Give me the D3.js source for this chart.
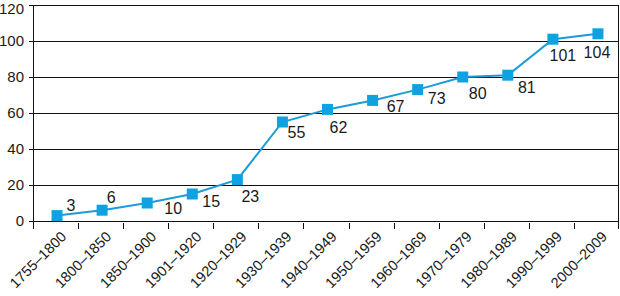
<!DOCTYPE html>
<html>
<head>
  <meta charset="utf-8">
  <script src="https://d3js.org/d3.v7.min.js"></script>
  <style>
    body { margin: 0; background: #fff; }
    text { font-family: "Liberation Sans", Arial, sans-serif; fill: #1a1a1a; }
    .grid line, .frame line { stroke: #111; stroke-width: 1; shape-rendering: crispEdges; }
  </style>
</head>
<body>
<div id="chart"></div>
<script>
  // data
  let periods = ["1755–1800", "1800–1850", "1850–1900", "1901–1920", "1920–1929",
                 "1930–1939", "1940–1949", "1950–1959", "1960–1969", "1970–1979",
                 "1980–1989", "1990–1999", "2000–2009"];
  let values = [3, 6, 10, 15, 23, 55, 62, 67, 73, 80, 81, 101, 104];
  let yTicks = [0, 20, 40, 60, 80, 100, 120];

  // where each value label sits relative to its marker (dx, dy to baseline)
  let labelOffsets = [[14, -5], [9, -7], [26, 11], [19, 13], [13, 22], [14, 16], [11, 24],
                      [23, 12], [19, 14], [15, 22], [19, 18], [10, 22], [-1, 24]];

  let width = 620, height = 296;
  let plotLeft = 33, plotRight = 619, plotTop = 5, plotBottom = 221;

  let svg = d3.select("#chart").append("svg")
    .attr("width", width)
    .attr("height", height);

  let x = d3.scaleBand().domain(periods).range([plotLeft, plotRight]);
  let y = d3.scaleLinear().domain([0, 120]).range([plotBottom, plotTop]);

  // horizontal grid lines
  svg.append("g").attr("class", "grid")
    .selectAll("line")
    .data(yTicks)
    .enter().append("line")
    .attr("x1", plotLeft - 4)
    .attr("x2", plotRight)
    .attr("y1", d => Math.round(y(d)) + 0.5)
    .attr("y2", d => Math.round(y(d)) + 0.5);

  // y labels (top one nudged down so it stays inside the picture)
  svg.append("g")
    .selectAll("text")
    .data(yTicks)
    .enter().append("text")
    .attr("x", plotLeft - 9)
    .attr("y", d => Math.max(y(d), 9))
    .attr("dy", "0.36em")
    .attr("text-anchor", "end")
    .style("font-size", "15px")
    .text(d => d);

  // left / right edges and category ticks
  let frame = svg.append("g").attr("class", "frame");
  frame.append("line")
    .attr("x1", plotLeft + 0.5).attr("x2", plotLeft + 0.5)
    .attr("y1", plotTop).attr("y2", plotBottom + 8);
  frame.append("line")
    .attr("x1", plotRight - 0.5).attr("x2", plotRight - 0.5)
    .attr("y1", plotTop).attr("y2", plotBottom + 8);
  frame.selectAll(".tick")
    .data(periods.slice(1))
    .enter().append("line")
    .attr("class", "tick")
    .attr("x1", d => Math.round(x(d)) + 0.5)
    .attr("x2", d => Math.round(x(d)) + 0.5)
    .attr("y1", plotBottom + 2)
    .attr("y2", plotBottom + 8);

  // x labels
  svg.append("g")
    .selectAll("text")
    .data(periods)
    .enter().append("text")
    .attr("transform", d => `translate(${x(d) + x.bandwidth() / 2 + 8},${plotBottom + 13}) rotate(-45)`)
    .attr("text-anchor", "end")
    .attr("dy", "0.35em")
    .style("font-size", "14.5px")
    .text(d => d);

  let cx = (d, i) => x(periods[i]) + x.bandwidth() / 2 + 1.5;

  let line = d3.line()
    .x((d, i) => cx(d, i))
    .y(d => y(d));

  svg.append("path")
    .datum(values)
    .attr("fill", "none")
    .attr("stroke", "#1b9bd7")
    .attr("stroke-width", 2)
    .attr("d", line);

  svg.append("g")
    .selectAll("rect")
    .data(values)
    .enter().append("rect")
    .attr("x", (d, i) => cx(d, i) - 5.5)
    .attr("y", d => y(d) - 5.5)
    .attr("width", 11)
    .attr("height", 11)
    .attr("fill", "#0ea3e0");

  svg.append("g")
    .selectAll("text")
    .data(values)
    .enter().append("text")
    .attr("x", (d, i) => cx(d, i) + labelOffsets[i][0])
    .attr("y", (d, i) => y(d) + labelOffsets[i][1])
    .attr("text-anchor", "middle")
    .style("font-size", "16px")
    .text(d => d);
</script>
</body>
</html>
